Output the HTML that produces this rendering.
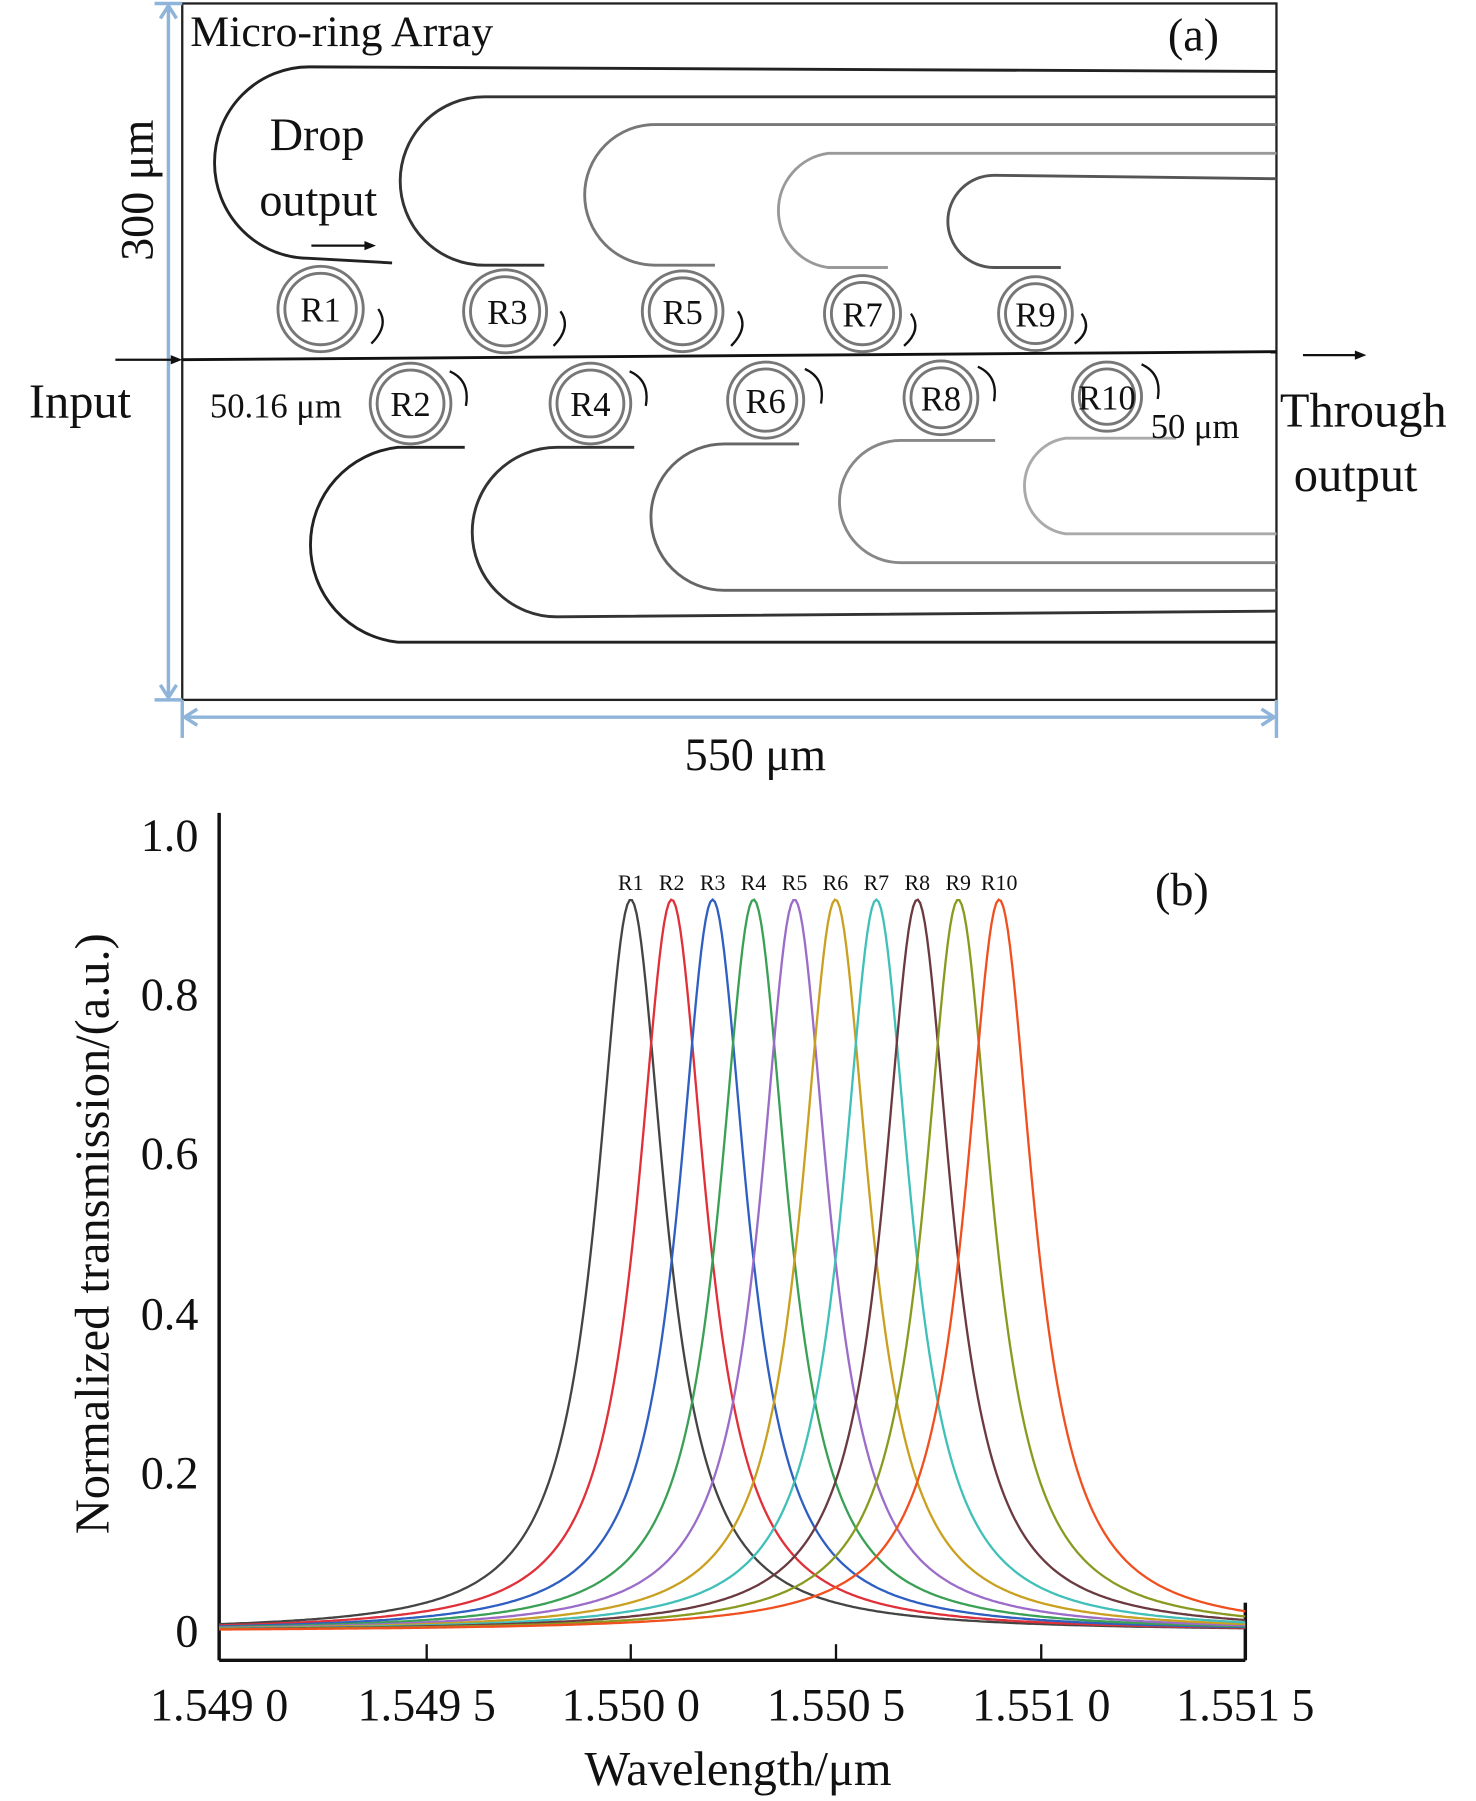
<!DOCTYPE html>
<html><head><meta charset="utf-8"><style>
html,body{margin:0;padding:0;background:#fff}
svg{display:block}
text{font-family:"Liberation Serif",serif;fill:#111}
</style></head><body>
<svg id="s" width="1476" height="1801" viewBox="0 0 1280 1562" xmlns="http://www.w3.org/2000/svg">
<!-- Part (a) -->
<rect x="158" y="3" width="949" height="604" fill="none" stroke="#222" stroke-width="2"/>
<g stroke="#8fb4d9" stroke-width="3" fill="none">
<line x1="146" y1="5" x2="146" y2="605"/><polyline points="139,16 146,5 153,16"/><polyline points="139,594 146,605 153,594"/>
<line x1="134" y1="607" x2="158" y2="607"/><line x1="134" y1="3" x2="158" y2="3"/>
<line x1="160" y1="622" x2="1105" y2="622"/><polyline points="171,615 160,622 171,629"/><polyline points="1094,615 1105,622 1094,629"/>
<line x1="158" y1="607" x2="158" y2="640"/><line x1="1107" y1="607" x2="1107" y2="640"/>
</g>
<text x="0" y="0" font-size="40" transform="translate(132,165) rotate(-90)" text-anchor="middle">300 μm</text>
<text x="655" y="668" font-size="40" text-anchor="middle">550 μm</text>
<text x="165" y="40" font-size="38">Micro-ring Array</text>
<text x="1035" y="44" font-size="40" text-anchor="middle">(a)</text>
<!-- bus -->
<line x1="158" y1="312" x2="1107" y2="305" stroke="#111" stroke-width="2.5"/>
<line x1="100" y1="312" x2="152" y2="312" stroke="#111" stroke-width="2"/><polygon points="158,312 148,308 148,316" fill="#111"/>
<line x1="1130" y1="308" x2="1178" y2="308" stroke="#111" stroke-width="2"/><polygon points="1185,308 1175,304 1175,312" fill="#111"/>
<!-- drop waveguides upper -->
<g fill="none" stroke-width="2.5">
<path d="M340,228 L268,224 A82,83 0 0 1 268,58 L1107,62" stroke="#222"/>
<path d="M472,230 L420,230 A73,73 0 0 1 420,84 L1107,84" stroke="#333"/>
<path d="M620,230 L568,230 A61,61 0 0 1 568,108 L1107,108" stroke="#777"/>
<path d="M770,232 L718,232 A50,50 0 0 1 718,133 L1107,133" stroke="#999"/>
<path d="M920,232 L862,232 A40,40 0 0 1 862,152 L1107,155" stroke="#555"/>
<path d="M403,388 L345,388 A85,85 0 0 0 345,557 L1107,557" stroke="#222"/>
<path d="M550,388 L483,388 A73,73 0 0 0 483,535 L1107,530" stroke="#333"/>
<path d="M693,385 L628,385 A63,63 0 0 0 628,512 L1107,512" stroke="#666"/>
<path d="M863,382 L781,382 A53,53 0 0 0 781,488 L1107,488" stroke="#888"/>
<path d="M1020,380 L924,380 A42,42 0 0 0 924,463 L1107,463" stroke="#aaa"/>
</g>
<!-- rings -->
<g fill="none" stroke="#777" stroke-width="2.5">
<circle cx="278" cy="268" r="37"/><circle cx="278" cy="268" r="31"/>
<circle cx="438" cy="270" r="36"/><circle cx="438" cy="270" r="30"/>
<circle cx="592" cy="270" r="35"/><circle cx="592" cy="270" r="29"/>
<circle cx="748" cy="272" r="33"/><circle cx="748" cy="272" r="27"/>
<circle cx="898" cy="272" r="32"/><circle cx="898" cy="272" r="26"/>
<circle cx="356" cy="350" r="35"/><circle cx="356" cy="350" r="29"/>
<circle cx="512" cy="350" r="35"/><circle cx="512" cy="350" r="29"/>
<circle cx="664" cy="347" r="33"/><circle cx="664" cy="347" r="27"/>
<circle cx="816" cy="345" r="32"/><circle cx="816" cy="345" r="26"/>
<circle cx="960" cy="344" r="30"/><circle cx="960" cy="344" r="24"/>
</g>
<g font-size="30" text-anchor="middle">
<text x="278" y="279">R1</text><text x="440" y="281">R3</text><text x="592" y="281">R5</text><text x="748" y="283">R7</text><text x="898" y="283">R9</text>
<text x="356" y="361">R2</text><text x="512" y="361">R4</text><text x="664" y="358">R6</text><text x="816" y="356">R8</text><text x="960" y="355">R10</text>
</g>
<g fill="none" stroke="#111" stroke-width="2">
<path d="M328,268 Q338,282 322,298"/><path d="M486,270 Q496,284 480,300"/><path d="M640,270 Q650,284 634,300"/><path d="M790,272 Q800,286 784,300"/><path d="M938,272 Q948,286 932,298"/>
<path d="M390,322 Q408,330 404,352"/><path d="M546,322 Q564,330 560,352"/><path d="M698,320 Q716,328 712,350"/><path d="M848,318 Q866,326 862,348"/><path d="M990,316 Q1008,324 1004,346"/>
</g>
<text x="275" y="130" font-size="40" text-anchor="middle">Drop</text>
<text x="276" y="187" font-size="40" text-anchor="middle">output</text>
<line x1="270" y1="213" x2="318" y2="213" stroke="#111" stroke-width="2"/><polygon points="326,213 316,209 316,217" fill="#111"/>
<text x="182" y="362" font-size="30">50.16 μm</text>
<text x="998" y="380" font-size="30">50 μm</text>
<text x="25" y="362" font-size="42">Input</text>
<text x="1110" y="370" font-size="42">Through</text>
<text x="1122" y="426" font-size="42">output</text>

<!-- Part (b) -->
<g stroke="#111" stroke-width="3" fill="none">
<line x1="190" y1="705" x2="190" y2="1440"/>
<line x1="190" y1="1440" x2="1080" y2="1440"/>
<line x1="1080" y1="1390" x2="1080" y2="1440"/>
</g>
<g stroke="#111" stroke-width="2">
<line x1="370" y1="1440" x2="370" y2="1426"/><line x1="547" y1="1440" x2="547" y2="1426"/><line x1="725" y1="1440" x2="725" y2="1426"/><line x1="903" y1="1440" x2="903" y2="1426"/>
</g>
<g font-size="40" text-anchor="end">
<text x="172" y="738">1.0</text><text x="172" y="876">0.8</text><text x="172" y="1014">0.6</text><text x="172" y="1153">0.4</text><text x="172" y="1291">0.2</text><text x="172" y="1428">0</text>
</g>
<g font-size="40" text-anchor="middle">
<text x="190" y="1492">1.549 0</text><text x="370" y="1492">1.549 5</text><text x="547" y="1492">1.550 0</text><text x="725" y="1492">1.550 5</text><text x="903" y="1492">1.551 0</text><text x="1080" y="1492">1.551 5</text>
</g>
<text x="640" y="1548" font-size="42" text-anchor="middle">Wavelength/μm</text>
<text font-size="42" text-anchor="middle" transform="translate(94,1070) rotate(-90)">Normalized transmission/(a.u.)</text>
<text x="1025" y="785" font-size="40" text-anchor="middle">(b)</text>
<g id="curves" fill="none" stroke-width="2"></g>
<g id="labs" font-size="19" text-anchor="middle"></g>
</svg>
<script>
var cols=["#444444","#e0303a","#2f5fc0","#3aa055","#9b6cc8","#c9a020","#40c0b8","#6a3a40","#8a9a20","#f05020"];
var g=document.getElementById("curves"),lb=document.getElementById("labs"),ns="http://www.w3.org/2000/svg";
for(var i=0;i<10;i++){var c=547+i*35.5,p=[];
for(var x=190;x<=1080;x+=2){var d=(x-c)/36;var v=0.92/(1+d*d);p.push(x+","+(1415-v*690).toFixed(1));}
var pl=document.createElementNS(ns,"polyline");pl.setAttribute("points",p.join(" "));pl.setAttribute("stroke",cols[i]);g.appendChild(pl);
var t=document.createElementNS(ns,"text");t.setAttribute("x",c);t.setAttribute("y",772);t.textContent="R"+(i+1);lb.appendChild(t);}
</script>
</body></html>
